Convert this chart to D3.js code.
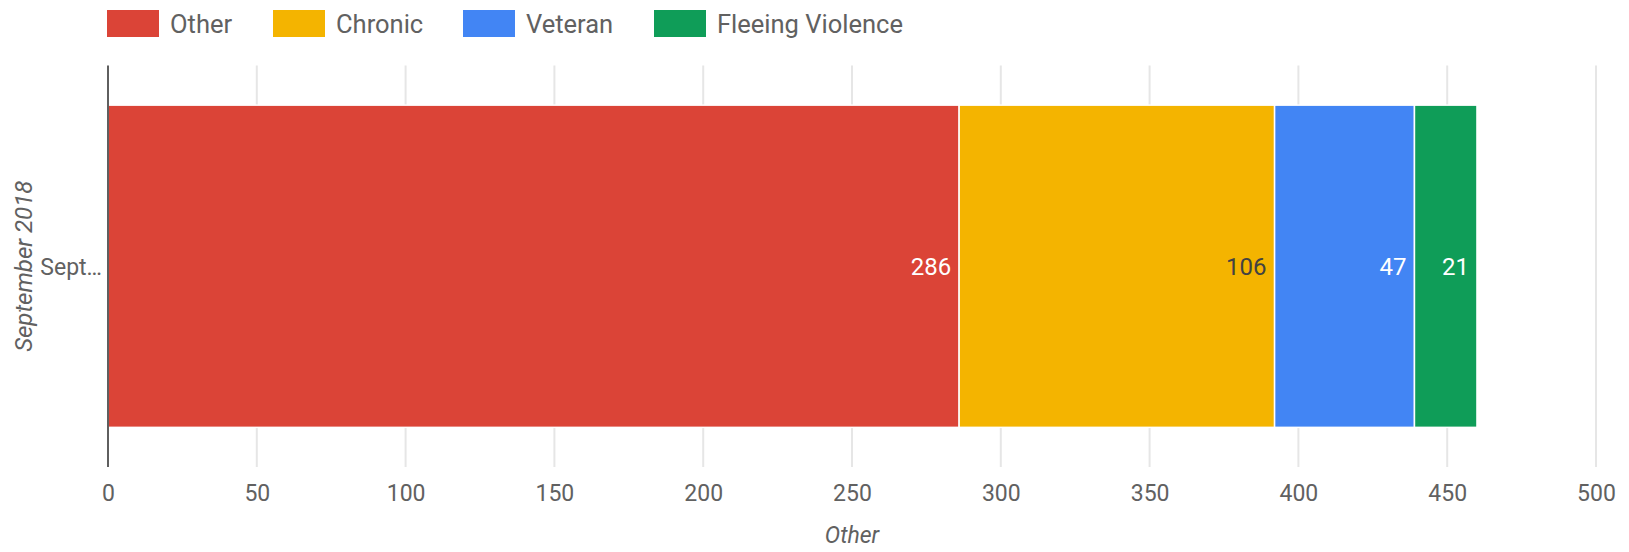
<!DOCTYPE html>
<html>
<head>
<meta charset="utf-8">
<script src="https://cdn.jsdelivr.net/npm/d3@7"></script>
<style>
  body { margin: 0; background: #fff; }
  text { font-family: Roboto, "Noto Sans", sans-serif; }
</style>
</head>
<body>
<svg id="chart" width="1629" height="552"></svg>
<script>
// data
const categories = ["September 2018"]
const seriesNames = ["Other", "Chronic", "Veteran", "Fleeing Violence"]
const seriesColors = ["#db4437", "#f4b400", "#4285f4", "#0f9d58"]
const labelColors = ["#ffffff", "#424242", "#ffffff", "#ffffff"]
const values = [[286, 106, 47, 21]]
const xTicks = [0, 50, 100, 150, 200, 250, 300, 350, 400, 450, 500]

const svg = d3.select("#chart")
const plotLeft = 108, plotRight = 1596, plotTop = 65.5, plotBottom = 467

const x = d3.scaleLinear().domain([0, 500]).range([plotLeft, plotRight])
const y = d3.scaleBand().domain(categories).range([plotTop, plotBottom]).paddingInner(0).paddingOuter(0.123)

// gridlines
svg.append("g")
    .selectAll("line")
    .data(xTicks.slice(1))
    .join("line")
    .attr("x1", d => x(d)).attr("x2", d => x(d))
    .attr("y1", plotTop).attr("y2", plotBottom)
    .attr("stroke", "#e6e6e6")
    .attr("stroke-width", 2)

// stacked bars
const rows = values.map((v, i) => {
    let acc = 0
    return v.map((d, j) => {
        const seg = { cat: categories[i], s: j, x0: acc, x1: acc + d, v: d }
        acc += d
        return seg
    })
}).flat()

svg.append("g")
    .selectAll("rect")
    .data(rows)
    .join("rect")
    .attr("x", d => x(d.x0))
    .attr("width", d => x(d.x1) - x(d.x0))
    .attr("y", d => y(d.cat))
    .attr("height", y.bandwidth())
    .attr("fill", d => seriesColors[d.s])
    .attr("stroke", "#fff")
    .attr("stroke-width", 1.5)

svg.append("g")
    .selectAll("text")
    .data(rows)
    .join("text")
    .attr("x", d => x(d.x1) - 8)
    .attr("y", d => y(d.cat) + y.bandwidth() / 2 + 9)
    .attr("text-anchor", "end")
    .attr("font-size", 24)
    .attr("fill", d => labelColors[d.s])
    .text(d => d.v)

// axis line
svg.append("line")
    .attr("x1", plotLeft).attr("x2", plotLeft)
    .attr("y1", plotTop).attr("y2", plotBottom)
    .attr("stroke", "#5f5f5f")
    .attr("stroke-width", 2)

// x tick labels
const xAxis = svg.append("g")
    .attr("transform", `translate(0,${plotBottom})`)
    .call(d3.axisBottom(x).tickValues(xTicks).tickSize(0))
xAxis.select(".domain").remove()
xAxis.selectAll("text")
    .attr("y", 34)
    .attr("dy", null)
    .attr("font-size", 23)
    .attr("fill", "#616161")
    .attr("font-family", "Roboto, sans-serif")

// y category label
svg.append("g")
    .selectAll("text")
    .data(categories)
    .join("text")
    .attr("x", plotLeft - 6)
    .attr("y", d => y(d) + y.bandwidth() / 2 + 9)
    .attr("text-anchor", "end")
    .attr("font-size", 23)
    .attr("fill", "#616161")
    .text(d => d.slice(0, 4) + "…")

// axis titles
svg.append("text")
    .attr("x", (plotLeft + plotRight) / 2)
    .attr("y", 543)
    .attr("text-anchor", "middle")
    .attr("font-size", 23)
    .attr("font-style", "italic")
    .attr("fill", "#616161")
    .text(seriesNames[0])

svg.append("text")
    .attr("transform", `translate(32,${(plotTop + plotBottom) / 2}) rotate(-90)`)
    .attr("text-anchor", "middle")
    .attr("font-size", 24)
    .attr("font-style", "italic")
    .attr("fill", "#616161")
    .text(categories[0])

// legend
const legendX = [107, 273, 463, 654]
const legend = svg.append("g")
    .selectAll("g")
    .data(seriesNames)
    .join("g")
    .attr("transform", (d, i) => `translate(${legendX[i]},10)`)
legend.append("rect")
    .attr("width", 52).attr("height", 27)
    .attr("fill", (d, i) => seriesColors[i])
legend.append("text")
    .attr("x", 63).attr("y", 22.5)
    .attr("font-size", 25.5)
    .attr("fill", "#616161")
    .text(d => d)
</script>
</body>
</html>
